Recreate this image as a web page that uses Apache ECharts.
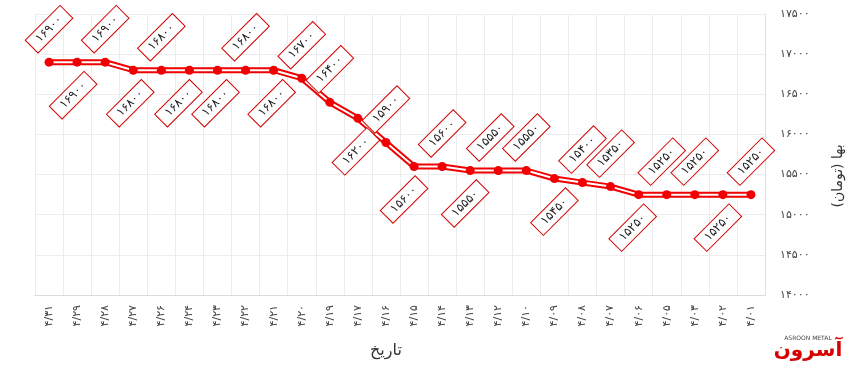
<!DOCTYPE html>
<html>
<head>
<meta charset="utf-8">
<script src="https://cdn.jsdelivr.net/npm/echarts@6/dist/echarts.min.js"></script>
<style>
html,body{margin:0;padding:0;background:#fff;}
#chart{width:860px;height:370px;}
</style>
</head>
<body>
<div id="chart"></div>
<script>
// ---- data ----
var dates = ['۴/۳۱','۴/۲۹','۴/۲۸','۴/۲۷','۴/۲۶','۴/۲۴','۴/۲۳','۴/۲۲','۴/۲۱','۴/۲۰','۴/۱۹','۴/۱۷','۴/۱۶','۴/۱۵','۴/۱۴','۴/۱۳','۴/۱۲','۴/۱۰','۴/۰۹','۴/۰۸','۴/۰۷','۴/۰۶','۴/۰۵','۴/۰۳','۴/۰۲','۴/۰۱'];
var prices = [16900,16900,16900,16800,16800,16800,16800,16800,16800,16700,16400,16200,15900,15600,15600,15550,15550,15550,15450,15400,15350,15250,15250,15250,15250,15250];
var yTicks = [14000,14500,15000,15500,16000,16500,17000,17500];
var xTitle = 'تاریخ';
var yTitle = 'بها (تومان)';

// label placement (style only): side 1 = above, -1 = below; horizontal nudge in px
var labelSide = [1,-1,1,-1,1,-1,-1,1,-1,1,1,-1,1,-1,1,-1,1,1,-1,1,1,-1,1,1,-1,1];
var labelNudgeX = [0,-4,0,-3,0,-11,-2,0,-2,0,0,-2,0,-10,0,-5,-8,0,0,0,0,-6,-5,0,-5,0];

function toFa(v){
  return String(v).replace(/[0-9]/g, function(d){ return '۰۱۲۳۴۵۶۷۸۹'[+d]; });
}

var RED = '#f00000';
var FONT = 'DejaVu Sans';
var K = Math.SQRT1_2;

var chart = echarts.init(document.getElementById('chart'), null, {renderer:'canvas'});
chart.setOption({
  animation:false,
  backgroundColor:'#ffffff',
  grid:{left:35,right:95,top:14,bottom:75,containLabel:false},
  xAxis:{
    type:'category',
    data:dates,
    boundaryGap:true,
    axisLine:{show:true,lineStyle:{color:'#dcdcdc',width:1}},
    axisTick:{show:false},
    splitLine:{show:true,lineStyle:{color:'#ececec',width:1}},
    axisLabel:{rotate:90,margin:10,color:'#444',fontSize:11,fontFamily:FONT,interval:0}
  },
  yAxis:{
    type:'value',
    position:'right',
    min:yTicks[0],
    max:yTicks[yTicks.length-1],
    interval:500,
    axisLine:{show:true,lineStyle:{color:'#e0e0e0'}},
    axisTick:{show:false},
    splitLine:{show:true,lineStyle:{color:'#ececec',width:1}},
    axisLabel:{margin:15,color:'#444',fontSize:11,fontFamily:FONT,align:'left',
      formatter:function(v){return toFa(v);}}
  },
  series:[
    {type:'line',data:prices,showSymbol:false,symbol:'none',silent:true,z:2,
      lineStyle:{color:RED,width:6}},
    {type:'line',data:prices,showSymbol:false,symbol:'none',silent:true,z:3,
      lineStyle:{color:'#ffffff',width:2}},
    {type:'line',data:prices,symbol:'circle',symbolSize:9,showSymbol:true,z:4,
      itemStyle:{color:RED},
      lineStyle:{opacity:0,width:0},
      label:{show:true,position:'inside',rotate:45,
        formatter:function(p){return toFa(p.value);},
        color:'#222',fontSize:12,fontFamily:FONT,
        backgroundColor:'#ffffff',borderColor:'#d40000',borderWidth:1,
        padding:[3,8,2,8]},
      labelLayout:function(p){
        var i=p.dataIndex;
        var sx=labelNudgeX[i], sy=labelSide[i]>0?-33:33;
        return {dx:K*(sx-sy), dy:K*(sx+sy)};
      }
    }
  ],
  graphic:[
    {type:'text',left:370,top:343,style:{text:xTitle,font:'16px "DejaVu Sans"',fill:'#333'}},
    {type:'text',x:838,y:176,rotation:Math.PI/2,
      style:{text:yTitle,font:'14px "DejaVu Sans"',fill:'#333',textAlign:'center',textVerticalAlign:'middle'}},
    {type:'text',x:808,y:338,style:{text:'ASROON METAL',font:'6px "DejaVu Sans"',fill:'#444',textAlign:'center',textVerticalAlign:'middle'}},
    {type:'text',x:808,y:351,style:{text:'آسرون',font:'bold 20px "DejaVu Sans"',fill:'#d60000',textAlign:'center',textVerticalAlign:'middle'}}
  ]
});
</script>
</body>
</html>
